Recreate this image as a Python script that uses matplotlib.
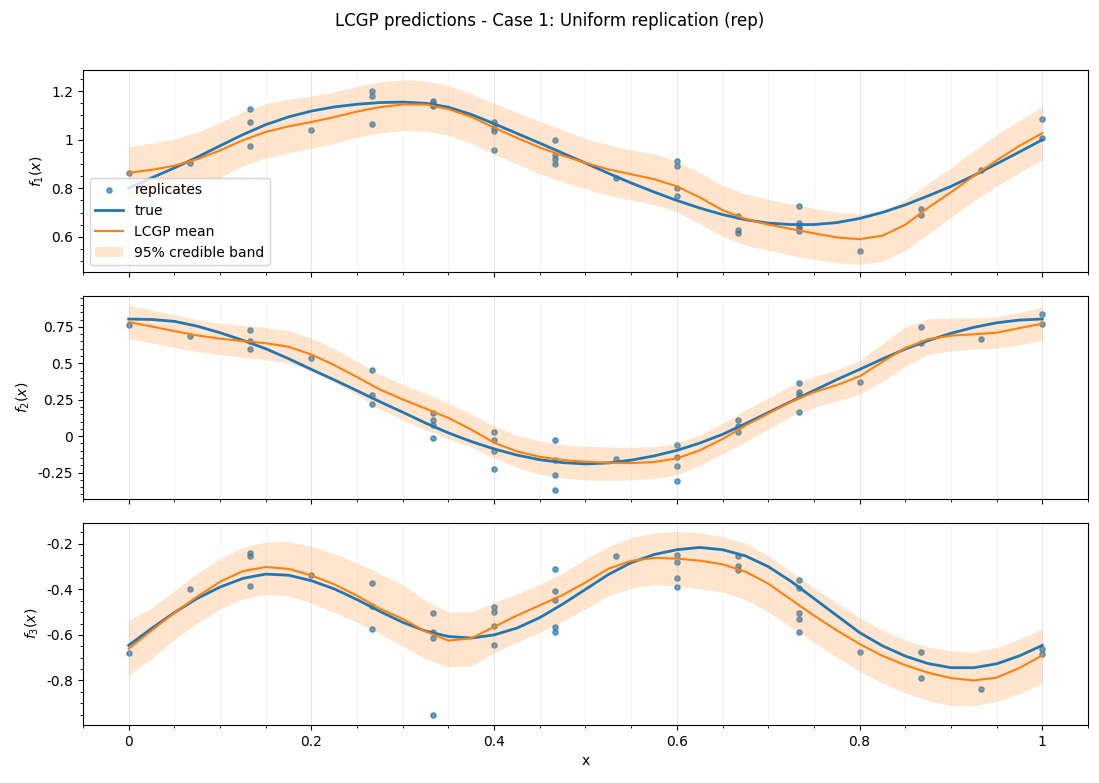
import numpy as np
import matplotlib
matplotlib.use('Agg')
import matplotlib.pyplot as plt
from matplotlib.ticker import FormatStrFormatter, AutoMinorLocator

# prediction grid (x = 0, 0.025, ..., 1)
x_grid = np.linspace(0, 1, 41)
# design points x_k = k/15
x_design = np.arange(16) / 15.0

# ---- f1 ----
true1 = [0.801, 0.843, 0.884, 0.928, 0.975, 1.021, 1.062, 1.094, 1.118, 1.135,
         1.146, 1.153, 1.155, 1.150, 1.134, 1.104, 1.066, 1.026, 0.986, 0.945,
         0.904, 0.862, 0.822, 0.785, 0.750, 0.719, 0.692, 0.671, 0.657, 0.651,
         0.651, 0.659, 0.676, 0.701, 0.732, 0.769, 0.808, 0.853, 0.901, 0.950, 1.000]
mean1 = [0.864, 0.876, 0.893, 0.920, 0.956, 0.998, 1.032, 1.055, 1.073, 1.093,
         1.116, 1.134, 1.145, 1.145, 1.126, 1.094, 1.050, 1.008, 0.968, 0.935,
         0.905, 0.878, 0.858, 0.838, 0.808, 0.763, 0.710, 0.674, 0.651, 0.633,
         0.615, 0.598, 0.591, 0.605, 0.650, 0.720, 0.784, 0.851, 0.915, 0.975, 1.027]
upper1 = [0.972, 0.985, 1.003, 1.030, 1.070, 1.115, 1.148, 1.167, 1.180, 1.197,
          1.220, 1.238, 1.247, 1.242, 1.222, 1.188, 1.150, 1.112, 1.076, 1.040,
          1.005, 0.978, 0.958, 0.942, 0.912, 0.865, 0.812, 0.777, 0.755, 0.736,
          0.718, 0.702, 0.695, 0.707, 0.755, 0.820, 0.885, 0.955, 1.020, 1.080, 1.135]
lower1 = [0.763, 0.770, 0.785, 0.810, 0.845, 0.892, 0.925, 0.945, 0.964, 0.985,
          1.010, 1.028, 1.038, 1.036, 1.018, 0.985, 0.942, 0.900, 0.860, 0.826,
          0.800, 0.772, 0.752, 0.733, 0.703, 0.655, 0.602, 0.566, 0.545, 0.525,
          0.508, 0.493, 0.488, 0.500, 0.545, 0.612, 0.680, 0.748, 0.810, 0.865, 0.918]
reps1 = [[0.864], [0.906], [1.128, 1.074, 0.975], [1.041], [1.199, 1.178, 1.063],
         [1.159, 1.151, 1.144, 1.139], [1.075, 1.048, 1.037, 0.959],
         [1.001, 0.938, 0.920, 0.901], [0.843], [0.911, 0.890, 0.802, 0.769],
         [0.685, 0.629, 0.618], [0.728, 0.658, 0.647, 0.635, 0.623], [0.542],
         [0.717, 0.691], [0.876], [1.087, 1.008]]

# ---- f2 ----
true2 = [0.804, 0.801, 0.788, 0.755, 0.710, 0.658, 0.600, 0.532, 0.458, 0.386,
         0.312, 0.236, 0.164, 0.090, 0.022, -0.037, -0.088, -0.130, -0.162, -0.182,
         -0.191, -0.184, -0.165, -0.136, -0.098, -0.048, 0.012, 0.085, 0.162, 0.238,
         0.313, 0.388, 0.458, 0.530, 0.598, 0.656, 0.706, 0.747, 0.778, 0.797, 0.804]
mean2 = [0.783, 0.753, 0.721, 0.692, 0.669, 0.653, 0.638, 0.614, 0.560, 0.488,
         0.405, 0.320, 0.252, 0.189, 0.125, 0.045, -0.045, -0.105, -0.142, -0.164,
         -0.176, -0.183, -0.185, -0.178, -0.153, -0.098, -0.020, 0.072, 0.155, 0.235,
         0.302, 0.350, 0.410, 0.510, 0.605, 0.665, 0.690, 0.699, 0.710, 0.742, 0.772]
upper2 = [0.897, 0.866, 0.833, 0.800, 0.775, 0.760, 0.746, 0.725, 0.674, 0.600,
          0.512, 0.424, 0.355, 0.293, 0.227, 0.150, 0.070, 0.005, -0.035, -0.058,
          -0.070, -0.075, -0.077, -0.073, -0.050, 0.008, 0.088, 0.178, 0.263, 0.345,
          0.408, 0.455, 0.518, 0.635, 0.750, 0.805, 0.812, 0.810, 0.820, 0.850, 0.886]
lower2 = [0.669, 0.640, 0.608, 0.580, 0.560, 0.540, 0.525, 0.503, 0.447, 0.372,
          0.282, 0.185, 0.112, 0.042, -0.020, -0.075, -0.150, -0.215, -0.262, -0.288,
          -0.300, -0.302, -0.300, -0.292, -0.267, -0.202, -0.122, -0.040, 0.048, 0.135,
          0.198, 0.240, 0.290, 0.375, 0.480, 0.560, 0.585, 0.597, 0.605, 0.625, 0.658]
reps2 = [[0.765], [0.689], [0.731, 0.651, 0.600], [0.539], [0.452, 0.285, 0.224],
         [0.162, 0.110, 0.075, -0.016], [0.025, -0.030, -0.103, -0.228],
         [-0.030, -0.164, -0.267, -0.370], [-0.160], [-0.062, -0.144, -0.205, -0.308],
         [0.110, 0.068, 0.025], [0.363, 0.301, 0.279, 0.169], [0.370],
         [0.747, 0.642], [0.664], [0.836, 0.767]]

# ---- f3 ----
true3 = [-0.646, -0.572, -0.502, -0.440, -0.390, -0.352, -0.333, -0.338, -0.362, -0.398,
         -0.445, -0.497, -0.545, -0.583, -0.607, -0.614, -0.600, -0.570, -0.524, -0.465,
         -0.400, -0.335, -0.283, -0.247, -0.226, -0.216, -0.226, -0.253, -0.300, -0.365,
         -0.440, -0.515, -0.590, -0.648, -0.693, -0.726, -0.744, -0.744, -0.727, -0.692, -0.646]
mean3 = [-0.661, -0.581, -0.503, -0.432, -0.367, -0.320, -0.302, -0.310, -0.339, -0.378,
         -0.428, -0.485, -0.530, -0.585, -0.625, -0.615, -0.565, -0.515, -0.470, -0.425,
         -0.370, -0.310, -0.275, -0.262, -0.265, -0.274, -0.290, -0.322, -0.375, -0.445,
         -0.515, -0.580, -0.640, -0.692, -0.733, -0.766, -0.790, -0.800, -0.788, -0.745, -0.690]
upper3 = [-0.538, -0.480, -0.407, -0.330, -0.265, -0.215, -0.192, -0.190, -0.212, -0.243,
          -0.284, -0.330, -0.380, -0.450, -0.500, -0.500, -0.458, -0.420, -0.378, -0.328,
          -0.268, -0.212, -0.172, -0.152, -0.146, -0.151, -0.168, -0.197, -0.252, -0.322,
          -0.393, -0.458, -0.525, -0.580, -0.623, -0.653, -0.670, -0.675, -0.656, -0.618, -0.574]
lower3 = [-0.777, -0.704, -0.620, -0.548, -0.487, -0.442, -0.422, -0.429, -0.460, -0.501,
          -0.545, -0.596, -0.648, -0.705, -0.741, -0.735, -0.680, -0.632, -0.588, -0.542,
          -0.485, -0.429, -0.395, -0.380, -0.386, -0.398, -0.412, -0.445, -0.500, -0.567,
          -0.632, -0.697, -0.760, -0.812, -0.855, -0.888, -0.910, -0.912, -0.893, -0.857, -0.813]
reps3 = [[-0.678], [-0.399], [-0.241, -0.252, -0.387], [-0.339], [-0.374, -0.472, -0.574],
         [-0.504, -0.586, -0.614, -0.951], [-0.477, -0.500, -0.561, -0.643],
         [-0.309, -0.409, -0.446, -0.564, -0.587], [-0.252],
         [-0.248, -0.278, -0.348, -0.391], [-0.252, -0.299, -0.313],
         [-0.357, -0.396, -0.504, -0.530, -0.587], [-0.674], [-0.674, -0.791],
         [-0.839], [-0.661, -0.683]]

panels = [
    (true1, mean1, lower1, upper1, reps1, r'$f_1(x)$', (0.454, 1.287)),
    (true2, mean2, lower2, upper2, reps2, r'$f_2(x)$', (-0.43, 0.96)),
    (true3, mean3, lower3, upper3, reps3, r'$f_3(x)$', (-0.996, -0.107)),
]

fig, axes = plt.subplots(3, 1, figsize=(10.99, 7.83), dpi=100, sharex=True)
fig.subplots_adjust(left=0.0755, right=0.99, top=0.9106, bottom=0.074, hspace=0.118)

for i, (ax, (tr, mu, lo, hi, reps, ylab, ylim)) in enumerate(zip(axes, panels)):
    xs = np.concatenate([np.full(len(r), x_design[k]) for k, r in enumerate(reps)])
    ys = np.concatenate([np.asarray(r, dtype=float) for r in reps])
    ax.scatter(xs, ys, s=14, color='C0', alpha=0.7, label='replicates')
    ax.plot(x_grid, tr, color='C0', lw=2, label='true')
    ax.plot(x_grid, mu, color='C1', lw=1.5, label='LCGP mean')
    ax.fill_between(x_grid, lo, hi, color='C1', alpha=0.2, linewidth=0,
                    label='95% credible band')
    ax.set_ylabel(ylab)
    ax.set_ylim(*ylim)
    ax.set_xlim(-0.05, 1.05)
    ax.xaxis.set_minor_locator(AutoMinorLocator())
    ax.yaxis.set_major_formatter(FormatStrFormatter('%g'))
    ax.xaxis.set_major_formatter(FormatStrFormatter('%g'))
    ax.grid(True, axis='x', which='major', alpha=0.3, lw=0.8)
    ax.grid(True, axis='x', which='minor', alpha=0.15, lw=0.6)
    if i == 0:
        ax.legend(loc='lower left')

axes[0].set_yticks([0.6, 0.8, 1.0, 1.2])
axes[1].set_yticks([-0.25, 0, 0.25, 0.5, 0.75])
axes[2].set_yticks([-0.8, -0.6, -0.4, -0.2])
for ax in axes:
    ax.yaxis.set_minor_locator(AutoMinorLocator())
axes[2].set_xlabel('x')
fig.suptitle('LCGP predictions - Case 1: Uniform replication (rep)', fontsize=12, y=0.985)

fig.savefig('out.png', dpi=100)
